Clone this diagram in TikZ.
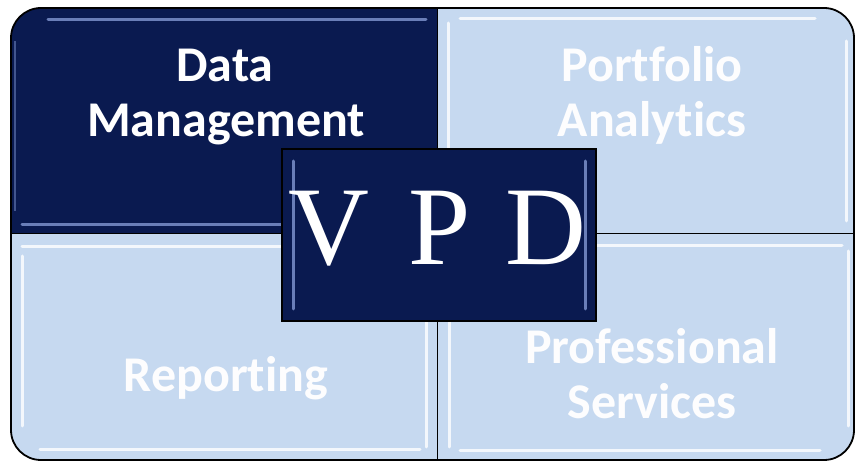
\documentclass[tikz,border=0pt]{standalone}
\usepackage{fontspec}
\setmainfont[Ligatures={NoCommon}]{Carlito}
\newfontfamily\vpdfont{Liberation Serif}
\definecolor{navy}{HTML}{0A1A50}
\definecolor{pale}{HTML}{C6D9F0}
\definecolor{bevnavy}{HTML}{6A7EB8}
\tikzset{
  lbl/.style={anchor=base, inner sep=0pt, font=\fontsize{50}{55}\selectfont\bfseries},
  lbldark/.style={lbl, text=white},
  lbllight/.style={lbl, text=white!96!pale},
  vpdletter/.style={anchor=base, inner sep=0pt, text=white, font=\vpdfont\fontsize{112}{120}\selectfont},
  outline/.style={draw=black, line width=1.8pt},
  divider/.style={draw=black, line width=1pt},
  bevlight/.style={draw=white, line width=3pt, opacity=0.8, line cap=round},
  bevdark/.style={draw=bevnavy, line width=3pt, line cap=round}
}
\begin{document}
\begin{tikzpicture}[x=1pt,y=1pt]
\useasboundingbox (0,0) rectangle (855,461);
% quadrants
\fill[navy] (11,227) -- (11,423) arc (180:90:30) -- (437,453) -- (437,227) -- cycle;
\fill[pale] (437,227) -- (437,453) -- (824,453) arc (90:0:30) -- (854,227) -- cycle;
\fill[pale] (11,227) -- (11,31) arc (180:270:30) -- (437,1) -- (437,227) -- cycle;
\fill[pale] (437,227) -- (437,1) -- (824,1) arc (270:360:30) -- (854,227) -- cycle;
% bevels
\draw[bevdark] (48,441) -- (426,441);
\draw[bevdark] (22,236) -- (426,236);
\draw[draw=bevnavy, line width=2pt, opacity=0.6] (15,250) -- (15,420);
\draw[bevlight] (448,438) -- (448,240);
\draw[bevlight] (846,420) -- (846,240);
\draw[bevlight] (460,442) -- (815,442);
\draw[bevlight] (22,214) -- (425,214);
\draw[bevlight] (22,205) -- (22,35);
\draw[bevlight] (426,205) -- (426,14);
\draw[bevlight] (40,11) -- (420,11);
\draw[bevlight] (460,215) -- (842,215);
\draw[bevlight] (449,205) -- (449,14);
\draw[bevlight] (848,210) -- (848,35);
\draw[bevlight] (460,10) -- (820,10);
% dividers and outline
\draw[divider] (437,1) -- (437,453);
\draw[divider] (11,227) -- (854,227);
\draw[outline] (11,227) -- (11,423) arc (180:90:30) -- (824,453) arc (90:0:30) -- (854,31) arc (0:-90:30) -- (41,1) arc (270:180:30) -- cycle;
% labels
\node[lbldark] (dm1) at (225,379) {Data};
\node[lbldark] (dm2) at (226,324) {Management};
\node[lbllight] (pa1) at (652,379) {Portfolio};
\node[lbllight] (pa2) at (652,324) {Analytics};
\node[lbllight] (rp) at (226,69) {Reporting};
\node[lbllight] (ps1) at (652,97) {Professional};
\node[lbllight] (ps2) at (652,42) {Services};
% centre box
\fill[navy] (282,140) rectangle (596,312);
\draw[draw=bevnavy, line width=3pt, line cap=round] (293,300) -- (293,152);
\draw[draw=bevnavy, line width=3pt, line cap=round] (585,300) -- (585,152);
\draw[outline] (282,140) rectangle (596,312);
\node[vpdletter] (v) at (329,196) {V};
\node[vpdletter] (p) at (440,196) {P};
\node[vpdletter] (d) at (546,196) {D};
\end{tikzpicture}
\end{document}
